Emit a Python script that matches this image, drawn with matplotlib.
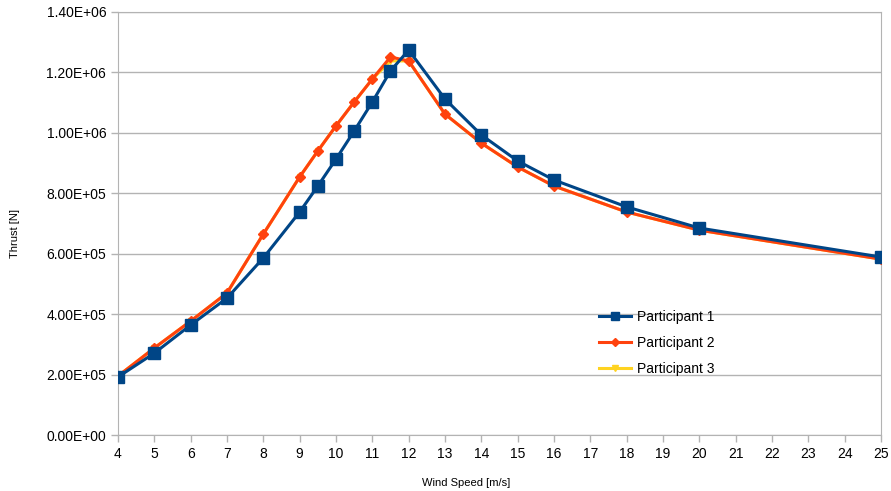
import matplotlib.pyplot as plt
from matplotlib.ticker import FuncFormatter, MultipleLocator

plt.rcParams["font.family"] = ["Liberation Sans", "DejaVu Sans"]

wind = [4, 5, 6, 7, 8, 9, 9.5, 10, 10.5, 11, 11.5, 12, 13, 14, 15, 16, 18, 20, 25]
p1 = [1.92e5, 2.71e5, 3.64e5, 4.53e5, 5.86e5, 7.38e5, 8.24e5, 9.13e5, 1.006e6,
      1.102e6, 1.205e6, 1.274e6, 1.112e6, 9.93e5, 9.07e5, 8.44e5, 7.55e5, 6.85e5, 5.89e5]
p2 = [1.95e5, 2.88e5, 3.77e5, 4.70e5, 6.65e5, 8.54e5, 9.40e5, 1.023e6, 1.102e6,
      1.178e6, 1.251e6, 1.238e6, 1.062e6, 9.66e5, 8.87e5, 8.24e5, 7.38e5, 6.78e5, 5.82e5]
p3 = [1.95e5, 2.88e5, 3.77e5, 4.70e5, 6.65e5, 8.54e5, 9.40e5, 1.023e6, 1.102e6,
      1.178e6, 1.238e6, 1.238e6, 1.062e6, 9.66e5, 8.87e5, 8.24e5, 7.38e5, 6.78e5, 5.82e5]

fig = plt.figure(figsize=(8.91, 4.91), dpi=100)
ax = fig.add_axes([0.1324, 0.114, 0.8564, 0.8616])

ax.plot(wind, p3, color="#ffd320", lw=2.2, marker="v", ms=5, label="Participant 3", zorder=3)
ax.plot(wind, p2, color="#ff420e", lw=2.2, marker="D", ms=5, label="Participant 2", zorder=4)
ax.plot(wind, p1, color="#004586", lw=2.2, marker="s", ms=8, label="Participant 1", zorder=5)

ax.set_xlim(4, 25)
ax.set_ylim(0, 1.4e6)
ax.xaxis.set_major_locator(MultipleLocator(1))
ax.yaxis.set_major_locator(MultipleLocator(2e5))


def sci(v, pos):
    return "%.2E" % v


ax.yaxis.set_major_formatter(FuncFormatter(sci))
ax.grid(axis="y", color="#b3b3b3", lw=1)
ax.set_axisbelow(True)
for sp in ax.spines.values():
    sp.set_color("#b3b3b3")
ax.tick_params(colors="#b3b3b3", labelcolor="black", labelsize=10, length=5, width=1)

fig.text(466 / 891, 1 - 483 / 491, "Wind Speed [m/s]", fontsize=8, ha="center", va="center")
fig.text(15 / 891, 1 - 234 / 491, "Thrust [N]", fontsize=8, ha="center", va="center",
         rotation=90)

h, l = ax.get_legend_handles_labels()
ax.legend(h[::-1], l[::-1], frameon=False, fontsize=10, loc="upper left",
          bbox_to_anchor=(0.614, 0.325), handlelength=2.3, labelspacing=0.85,
          handletextpad=0.45, markerscale=0.75)

fig.savefig("out.png")
